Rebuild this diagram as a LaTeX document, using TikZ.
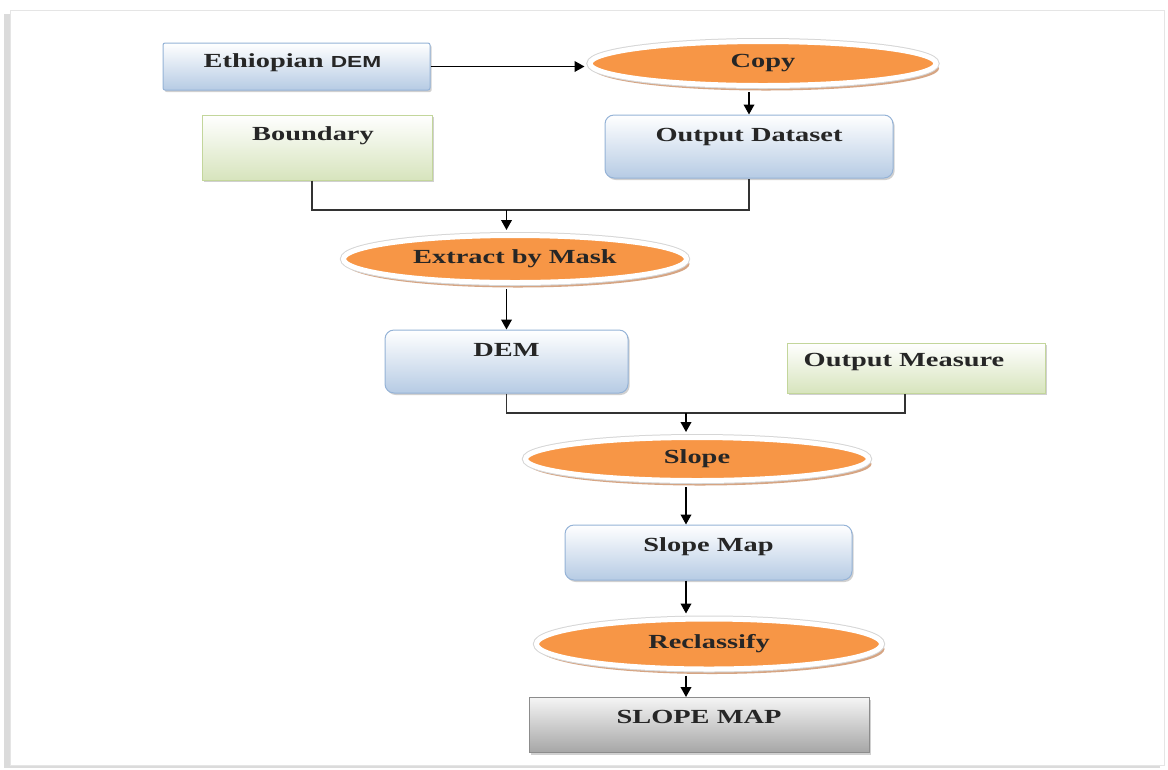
\documentclass[tikz,border=0pt]{standalone}
\usepackage{fontspec}
\setmainfont{Liberation Serif}[FakeStretch=1.42]
\newfontfamily\demfont{Liberation Sans}[FakeStretch=1.42]
\usetikzlibrary{shapes.geometric,arrows.meta,shadows,calc}
\newdimen\pxu \pxu=0.75pt
\definecolor{boxblue}{HTML}{B6CBE4}
\definecolor{lineblue}{HTML}{95B3D7}
\definecolor{boxgreen}{HTML}{D7E4BD}
\definecolor{linegreen}{HTML}{C3D69B}
\definecolor{toolfill}{HTML}{F79646}
\definecolor{toolshade}{HTML}{C9875A}
\definecolor{ink}{HTML}{262626}
\tikzset{
  txt/.style={font=\fontsize{15}{18}\selectfont\bfseries, text=ink, inner sep=0pt},
  panel/.style={draw=#1, line width=1\pxu, inner sep=0pt,
    drop shadow={shadow xshift=1.2pt, shadow yshift=-1.5pt, opacity=.3, fill=black!60}},
  bluebox/.style={panel=lineblue, top color=white, bottom color=boxblue},
  greenbox/.style={panel=linegreen, top color=white, bottom color=boxgreen},
  graybox/.style={panel=black!45, top color=black!4, bottom color=black!35},
  roundbox/.style={rounded corners=9\pxu},
  tool/.style={ellipse, inner sep=0pt,
    drop shadow={shadow xshift=3\pxu, shadow yshift=-5\pxu, fill=toolshade, opacity=.75},
    preaction={draw=black!16, line width=7\pxu},
    fill=toolfill, draw=white, line width=5\pxu, txt},
  arr/.style={draw=black, line width=1.6\pxu, -{Triangle[length=7.5pt,width=8pt]}},
  gapend/.style={shorten >=2.25pt},
  gapstart/.style={shorten <=3pt},
  link/.style={draw=black!80, line width=1.6\pxu},
}
\begin{document}
\begin{tikzpicture}[x=0.75pt, y=-0.75pt]
\useasboundingbox (0,0) rectangle (1168,769);

% page frame with its soft shadow
\fill[black!14] (4,14) rectangle (1160,768);
\filldraw[fill=white, draw=black!10, line width=1\pxu] (10,10) rectangle (1164,765);

% inputs and intermediate data
\node[bluebox, rounded corners=2\pxu, minimum width=267\pxu, minimum height=47\pxu,
  label={[txt, xshift=-4\pxu, yshift=3.5\pxu]center:Ethiopian {\demfont\fontsize{12}{14}\selectfont DEM}}]
  (edem) at (296.5,66.5) {};
\node[greenbox, minimum width=230\pxu, minimum height=65\pxu,
  label={[txt, xshift=-4\pxu, yshift=11.5\pxu]center:Boundary}]
  (bnd) at (317,147.5) {};
\node[bluebox, roundbox, minimum width=288\pxu, minimum height=63\pxu,
  label={[txt, yshift=9.5\pxu]center:Output Dataset}]
  (ods) at (749,146.5) {};
\node[bluebox, roundbox, minimum width=243\pxu, minimum height=63\pxu,
  label={[txt, yshift=11.5\pxu]center:DEM}]
  (dem) at (506.5,361.5) {};
\node[greenbox, minimum width=258\pxu, minimum height=50\pxu,
  label={[txt, xshift=-12\pxu, yshift=6\pxu]center:Output Measure}]
  (om) at (916,368) {};
\node[bluebox, roundbox, minimum width=287\pxu, minimum height=55\pxu,
  label={[txt, yshift=5.5\pxu]center:Slope Map}]
  (smap) at (708.5,552.5) {};
\node[graybox, minimum width=340\pxu, minimum height=55\pxu,
  label={[txt, yshift=8\pxu]center:SLOPE MAP}]
  (final) at (699,725) {};

% processing tools
\node[tool, minimum width=346\pxu, minimum height=44\pxu] (copy) at (763,63.5) {Copy};
\node[tool, minimum width=343\pxu, minimum height=47\pxu] (ebm) at (515,259) {Extract by Mask};
\node[tool, minimum width=343\pxu, minimum height=43\pxu] (slope) at (697,459) {Slope};
\node[tool, minimum width=345\pxu, minimum height=50\pxu] (recl) at (709,644) {Reclassify};

% junction points of the merging lines
\coordinate (j1) at (dem.north |- 0,210);
\coordinate (j2) at (686,413);

% connectors
\draw[arr, gapend] (edem.east) -- (edem.east -| copy.west);
\draw[arr, gapstart] (copy.south -| ods.north) -- (ods.north);
\draw[link] ([xshift=-5\pxu]bnd.south) |- (j1) -| (ods.south);
\draw[arr, gapend] (j1) -- (j1 |- ebm.north);
\draw[arr, gapstart] (dem.north |- ebm.south) -- (dem.north);
\draw[link] (dem.south) |- (j2) -| ([xshift=-11\pxu]om.south);
\draw[arr, gapend] (j2) -- (j2 |- slope.north);
\draw[arr, gapstart] (j2 |- slope.south) -- (j2 |- smap.north);
\draw[arr, gapend] (j2 |- smap.south) -- (j2 |- recl.north);
\draw[arr, gapstart] (j2 |- recl.south) -- (j2 |- final.north);
\end{tikzpicture}
\end{document}
